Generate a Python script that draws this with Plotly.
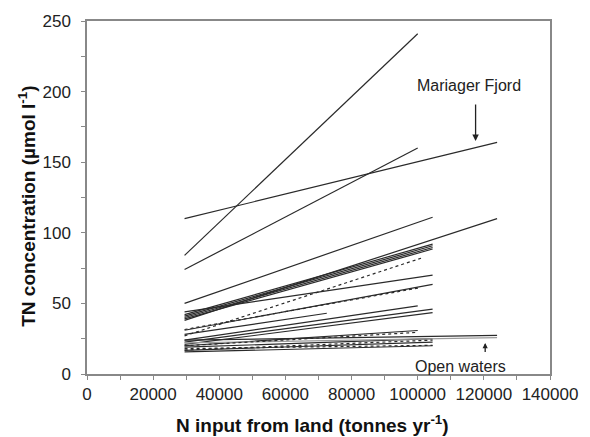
import plotly.graph_objects as go

# Regression lines: TN concentration at the lowest and highest N input per site
n_input_low = [29500] * 26
n_input_high = [100000, 100000, 124000, 104500, 124000,
                104500, 104500, 104500, 104500, 104500,
                104500, 100000, 104500, 104500, 72500,
                100000, 104500, 104500, 104500, 124000,
                124000, 101000, 100500, 100000, 104500, 104500]
tn_low = [84, 74, 110, 50, 38,
          42, 41, 40, 39, 44,
          31, 24, 22.6, 21, 28,
          20, 19, 16.8, 15.6, 24,
          22, 27, 31.5, 20, 18, 17]
tn_high = [241, 160, 164, 111, 110,
           92, 90.8, 89.6, 88.5, 70,
           63.5, 48.3, 46, 43.4, 43,
           30.8, 25, 22.6, 20, 27.3,
           25.7, 82, 61, 29.5, 20.3, 24]
line_kind = ["solid"] * 21 + ["dot"] * 5

FONT = "Liberation Sans, Arial, sans-serif"

fig = go.Figure()
for i in range(len(tn_low)):
    grey = (i == 20)
    fig.add_trace(go.Scatter(
        x=[n_input_low[i], n_input_high[i]],
        y=[tn_low[i], tn_high[i]],
        mode="lines",
        line=dict(color="#9a9a9a" if grey else "#2a2a2a",
                  width=1.2, dash=line_kind[i]),
        showlegend=False, hoverinfo="skip",
    ))

label_font = dict(family=FONT, size=16, color="#222")
fig.add_annotation(x=115500, y=204, text="Mariager Fjord", showarrow=False,
                   font=label_font)
fig.add_annotation(x=117500, y=165, ax=117500, ay=192, xref="x", yref="y",
                   axref="x", ayref="y", text="", showarrow=True,
                   arrowhead=2, arrowsize=1, arrowwidth=1.3, arrowcolor="#222")
fig.add_annotation(x=113000, y=5.5, text="Open waters", showarrow=False,
                   font=label_font)
fig.add_annotation(x=120400, y=22, ax=120400, ay=14.5, xref="x", yref="y",
                   axref="x", ayref="y", text="", showarrow=True,
                   arrowhead=2, arrowsize=0.8, arrowwidth=1.3, arrowcolor="#222")

# Axis titles
title_font = dict(family=FONT, size=19, color="#111")
fig.add_annotation(xref="paper", yref="paper", x=0.488, y=-0.143,
                   text="<b>N input from land (tonnes yr<sup>-1</sup>)</b>",
                   showarrow=False, font=title_font,
                   xanchor="center", yanchor="middle")
fig.add_annotation(xref="paper", yref="paper", x=-0.13, y=0.476,
                   text="<b>TN concentration (µmol l<sup>-1</sup>)</b>",
                   showarrow=False, font=title_font, textangle=-90,
                   xanchor="center", yanchor="middle")

axis_font = dict(family=FONT, size=17, color="#222")
fig.update_xaxes(
    range=[0, 140000], dtick=20000, tickformat="d",
    ticks="outside", ticklen=4, tickcolor="#888",
    minor=dict(dtick=10000, ticks="outside", ticklen=4, tickcolor="#888"),
    showline=True, linecolor="#888", linewidth=1.5, mirror=True,
    showgrid=False, zeroline=False, tickfont=axis_font,
)
fig.update_yaxes(
    range=[0, 250], dtick=50,
    ticks="outside", ticklen=4, tickcolor="#888",
    minor=dict(dtick=25, ticks="outside", ticklen=4, tickcolor="#888"),
    showline=True, linecolor="#888", linewidth=1.5, mirror=True,
    showgrid=False, zeroline=False, tickfont=axis_font,
    ticklabelstandoff=7,
)
fig.update_layout(
    width=590, height=437,
    margin=dict(l=87, r=40, t=17, b=63),
    plot_bgcolor="white", paper_bgcolor="white",
)
fig.write_html("out.html")
